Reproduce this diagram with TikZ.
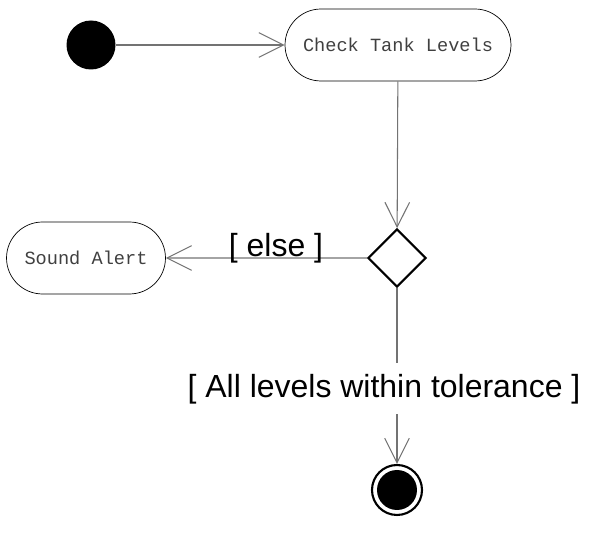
\documentclass[tikz,border=0pt]{standalone}
\usepackage{fontspec}
\setmainfont{Liberation Sans}
\newfontfamily\cajafont{Liberation Mono}
\usetikzlibrary{arrows.meta,shapes.geometric,shapes.misc}

\tikzset{
	accion/.style={draw, rounded rectangle, thin, minimum height=1.44cm, inner sep=0pt,
		text=black!75, font=\cajafont\fontsize{10.6}{12}\selectfont},
	flecha/.style={draw=black!55, line width=0.6pt,
		-{Straight Barb[length=14pt, width=14pt, line width=0.6pt]}},
	guarda/.style={font=\fontsize{18.2}{20}\selectfont, inner sep=0pt}
}

\begin{document}
\begin{tikzpicture}[x=0.02cm, y=-0.02cm]
	\useasboundingbox (0,0) rectangle (600,540);
	% nodos
	\node[circle, fill=black, minimum size=0.98cm, inner sep=0pt] (inicio) at (91,45) {};
	\node[accion, minimum width=4.52cm] (revisar) at (398,45) {Check Tank Levels};
	\node[accion, minimum width=3.18cm] (alerta) at (86,258) {Sound Alert};
	\node[diamond, draw, line width=1.2pt, minimum width=1.16cm, minimum height=1.16cm, inner sep=0pt] (decision) at (397,258) {};
	\node[circle, draw, line width=1.2pt, minimum size=1cm, inner sep=0pt] (fin) at (397,490) {};
	\fill (fin) circle (0.4cm);
	
	% conexiones
	\draw[flecha] (inicio) -- (revisar);
	\draw[flecha] (revisar) -- (decision);
	\draw[flecha] (decision) -- (alerta);
	\draw[flecha] (decision) -- (fin);
	\node[guarda] (sino) at (276,248) {[ else ]};
	\node[guarda, fill=white, minimum height=1.02cm] (tolerancia) at (384,389) {[ All levels within tolerance ]};
\end{tikzpicture}
\end{document}
